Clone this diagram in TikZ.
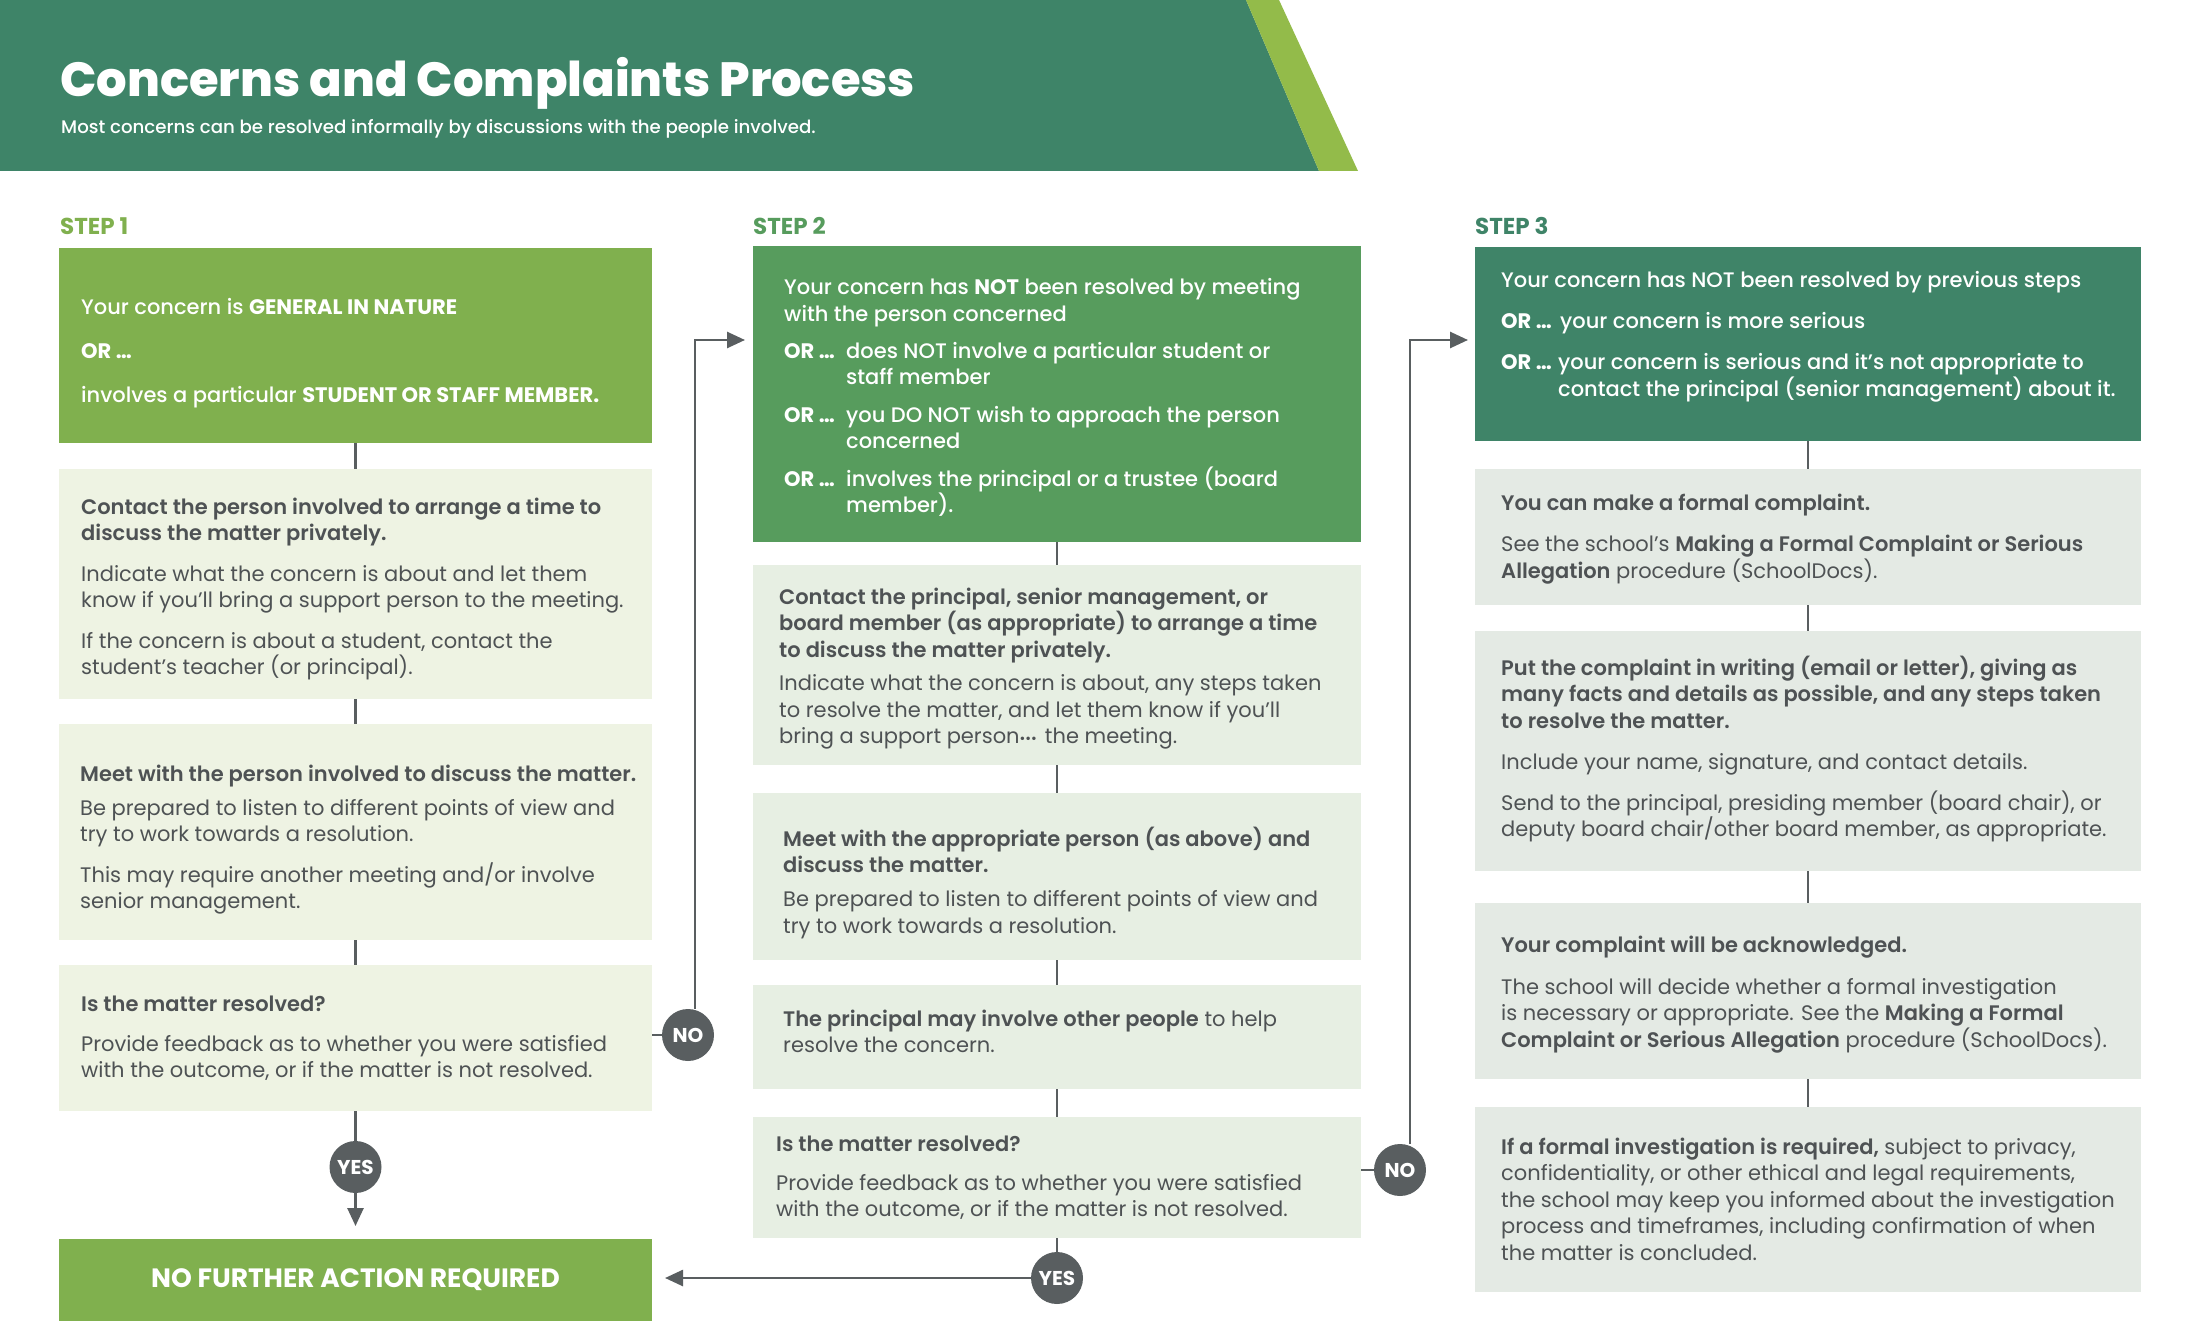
\documentclass[tikz,border=0pt]{standalone}
\usepackage{fontspec}
\setmainfont{Poppins}[BoldFont={Poppins SemiBold}]
\newfontfamily\heavy{Poppins Bold}
\newfontfamily\xheavy{Poppins ExtraBold}
\newfontfamily\medium{Poppins Medium}[BoldFont={Poppins Bold}]
\usetikzlibrary{arrows.meta}
\definecolor{hdr}{HTML}{3E8468}
\definecolor{stripe}{HTML}{93BB4A}
\definecolor{gA}{HTML}{80B04E}
\definecolor{gB}{HTML}{579C5D}
\definecolor{gC}{HTML}{3F8468}
\definecolor{lA}{HTML}{EEF3E3}
\definecolor{lB}{HTML}{E7EFE3}
\definecolor{lC}{HTML}{E4EAE4}
\definecolor{ink}{HTML}{4E5254}
\definecolor{dot}{HTML}{595E60}
\pgfdeclarelayer{bg}
\pgfsetlayers{bg,main}
\newcommand\bodyfont{\fontsize{21}{26.5}\selectfont}
\newcommand\Ln[1]{\hbox{#1}}
\newcommand\Gap[1]{\vskip#1}
\newcommand\Or[2]{\makebox[#1][l]{\heavy OR …}#2}
\begin{document}
\begin{tikzpicture}[x=1pt,y=-1pt,
  panel/.style={rectangle, anchor=north west, inner sep=0pt, outer sep=0pt},
  w1/.style={panel, minimum width=593pt},
  w2/.style={panel, minimum width=608pt},
  w3/.style={panel, minimum width=666pt},
  tx/.style={anchor=base west, inner sep=0pt, font=\bodyfont, text=ink},
  txw/.style={tx, text=white, font=\medium\bodyfont},
  dec/.style={circle, fill=dot, text=white, minimum size=52pt, inner sep=0pt, font=\heavy\fontsize{20}{20}\selectfont},
  conn/.style={draw=dot, line width=2.6pt},
  arr/.style={conn, -{Triangle[length=18pt,width=16pt]}},
  steplab/.style={anchor=base west, inner sep=0pt, font=\heavy\fontsize{23}{23}\selectfont}
]
\useasboundingbox (0,0) rectangle (2200,1321);
\begin{pgfonlayer}{bg}
\fill[white] (0,0) rectangle (2200,1321);
\end{pgfonlayer}
% header
\fill[hdr] (0,0) -- (1246,0) -- (1319,171) -- (0,171) -- cycle;
\fill[stripe] (1246,0) -- (1279,0) -- (1358,171) -- (1319,171) -- cycle;
\node[anchor=base west, inner sep=0pt, text=white, font=\xheavy\fontsize{48}{48}\selectfont] (title) at (60,97) {Concerns and Complaints Process};
\node[anchor=base west, inner sep=0pt, text=white, font=\medium\fontsize{18.2}{18.2}\selectfont] (subtitle) at (61,134) {Most concerns can be resolved informally by discussions with the people involved.};
% step labels
\node[steplab, text=gA] (s1) at (60,235) {STEP 1};
\node[steplab, text=gB] (s2) at (753,235) {STEP 2};
\node[steplab, text=gC] (s3) at (1475,235) {STEP 3};
% column 1
\node[w1, fill=gA, minimum height=195pt] (a1) at (59,248) {};
\node[txw] (a1t) at (81,315) {\vtop{\Ln{Your concern is {\heavy GENERAL IN NATURE}}\Gap{17.5pt}\Ln{\heavy OR …}\Gap{17.5pt}\Ln{involves a particular {\heavy STUDENT OR STAFF MEMBER.}}}};
\node[w1, fill=lA, minimum height=230pt] (b1) at (59,469) {};
\node[tx] (b1t) at (81,514) {\vtop{\Ln{\textbf{Contact the person involved to arrange a time to}}\Ln{\textbf{discuss the matter privately.}}\Gap{14pt}\Ln{Indicate what the concern is about and let them}\Ln{know if you’ll bring a support person to the meeting.}\Gap{14pt}\Ln{If the concern is about a student, contact the}\Ln{student’s teacher (or principal).}}};
\node[w1, fill=lA, minimum height=216pt] (c1) at (59,724) {};
\node[tx] (c1t) at (80,781) {\vtop{\Ln{\textbf{Meet with the person involved to discuss the matter.}}\Gap{7.5pt}\Ln{Be prepared to listen to different points of view and}\Ln{try to work towards a resolution.}\Gap{14pt}\Ln{This may require another meeting and/or involve}\Ln{senior management.}}};
\node[w1, fill=lA, minimum height=146pt] (d1) at (59,965) {};
\node[tx] (d1t) at (81,1011) {\vtop{\Ln{\textbf{Is the matter resolved?}}\Gap{13.5pt}\Ln{Provide feedback as to whether you were satisfied}\Ln{with the outcome, or if the matter is not resolved.}}};
\node[w1, fill=gA, minimum height=82pt, text=white, font=\heavy\fontsize{26.5}{26.5}\selectfont] (e1) at (59,1239) {NO FURTHER ACTION REQUIRED};
% column 2
\node[w2, fill=gB, minimum height=296pt] (a2) at (753,246) {};
\node[txw] (a2t) at (784,295) {\vtop{\Ln{Your concern has \textbf{NOT} been resolved by meeting}\Ln{with the person concerned}\Gap{10.5pt}\Ln{\Or{62pt}{does NOT involve a particular student or}}\Ln{\hspace*{62pt}staff member}\Gap{11pt}\Ln{\Or{62pt}{you DO NOT wish to approach the person}}\Ln{\hspace*{62pt}concerned}\Gap{11pt}\Ln{\Or{62pt}{involves the principal or a trustee (board}}\Ln{\hspace*{62pt}member).}}};
\node[w2, fill=lB, minimum height=200pt] (b2) at (753,565) {};
\node[tx] (b2t) at (779,604) {\vtop{\Ln{\textbf{Contact the principal, senior management, or}}\Ln{\textbf{board member (as appropriate) to arrange a time}}\Ln{\textbf{to discuss the matter privately.}}\Gap{7pt}\Ln{Indicate what the concern is about, any steps taken}\Ln{to resolve the matter, and let them know if you’ll}\Ln{bring a support person{\fontsize{14}{14}\selectfont •••}\hspace{8pt}the meeting.}}};
\node[w2, fill=lB, minimum height=167pt] (c2) at (753,793) {};
\node[tx] (c2t) at (783,846) {\vtop{\Ln{\textbf{Meet with the appropriate person (as above) and}}\Ln{\textbf{discuss the matter.}}\Gap{7.5pt}\Ln{Be prepared to listen to different points of view and}\Ln{try to work towards a resolution.}}};
\node[w2, fill=lB, minimum height=104pt] (d2) at (753,985) {};
\node[tx] (d2t) at (783,1026) {\vtop{\Ln{\textbf{The principal may involve other people} to help}\Ln{resolve the concern.}}};
\node[w2, fill=lB, minimum height=121pt] (e2) at (753,1117) {};
\node[tx] (e2t) at (776,1151) {\vtop{\Ln{\textbf{Is the matter resolved?}}\Gap{12.5pt}\Ln{Provide feedback as to whether you were satisfied}\Ln{with the outcome, or if the matter is not resolved.}}};
% column 3
\node[w3, fill=gC, minimum height=194pt] (a3) at (1475,247) {};
\node[txw] (a3t) at (1501,288) {\vtop{\Ln{Your concern has NOT been resolved by previous steps}\Gap{14pt}\Ln{\Or{59pt}{your concern is more serious}}\Gap{15pt}\Ln{\Or{57pt}{your concern is serious and it’s not appropriate to}}\Ln{\hspace*{57pt}contact the principal (senior management) about it.}}};
\node[w3, fill=lC, minimum height=136pt] (b3) at (1475,469) {};
\node[tx] (b3t) at (1501,510) {\vtop{\Ln{\textbf{You can make a formal complaint.}}\Gap{15pt}\Ln{See the school’s \textbf{Making a Formal Complaint or Serious}}\Ln{\textbf{Allegation} procedure (SchoolDocs).}}};
\node[w3, fill=lC, minimum height=240pt] (c3) at (1475,631) {};
\node[tx] (c3t) at (1501,675) {\vtop{\Ln{\textbf{Put the complaint in writing (email or letter), giving as}}\Ln{\textbf{many facts and details as possible, and any steps taken}}\Ln{\textbf{to resolve the matter.}}\Gap{14.5pt}\Ln{Include your name, signature, and contact details.}\Gap{14.5pt}\Ln{Send to the principal, presiding member (board chair), or}\Ln{deputy board chair/other board member, as appropriate.}}};
\node[w3, fill=lC, minimum height=176pt] (d3) at (1475,903) {};
\node[tx] (d3t) at (1501,952) {\vtop{\Ln{\textbf{Your complaint will be acknowledged.}}\Gap{15.5pt}\Ln{The school will decide whether a formal investigation}\Ln{is necessary or appropriate. See the \textbf{Making a Formal}}\Ln{\textbf{Complaint or Serious Allegation} procedure (SchoolDocs).}}};
\node[w3, fill=lC, minimum height=185pt] (e3) at (1475,1107) {};
\node[tx] (e3t) at (1501,1154) {\vtop{\Ln{\textbf{If a formal investigation is required,} subject to privacy,}\Ln{confidentiality, or other ethical and legal requirements,}\Ln{the school may keep you informed about the investigation}\Ln{process and timeframes, including confirmation of when}\Ln{the matter is concluded.}}};
% decision circles
\node[dec] (no1) at (688,1035) {NO};
\node[dec] (yes1) at (355.5,1167) {YES};
\node[dec] (no2) at (1400,1170) {NO};
\node[dec] (yes2) at (1057,1278) {YES};
\coordinate (k1) at (695,340);
\coordinate (k2) at (1410,340);
% connectors
\begin{pgfonlayer}{bg}
\draw[conn] (a1) -- (b1);
\draw[conn] (b1) -- (c1);
\draw[conn] (c1) -- (d1);
\draw[conn] (d1) -- (yes1);
\draw[arr, shorten >=13pt] (yes1) -- (yes1 |- e1.north);
\draw[conn] (d1.east |- no1) -- (no1);
\draw[arr, shorten >=8pt] (no1.north -| k1) -- (k1) -- (k1 -| a2.west);
\draw[conn] (a2) -- (b2);
\draw[conn] (b2) -- (c2);
\draw[conn] (c2) -- (d2);
\draw[conn] (d2) -- (e2);
\draw[conn] (e2.south -| yes2) -- (yes2);
\draw[arr, shorten >=13pt] (yes2) -- (yes2 -| e1.east);
\draw[conn] (e2.east |- no2) -- (no2);
\draw[arr, shorten >=7pt] (no2.north -| k2) -- (k2) -- (k2 -| a3.west);
\draw[conn] (a3) -- (b3);
\draw[conn] (b3) -- (c3);
\draw[conn] (c3) -- (d3);
\draw[conn] (d3) -- (e3);
\end{pgfonlayer}
\end{tikzpicture}
\end{document}
